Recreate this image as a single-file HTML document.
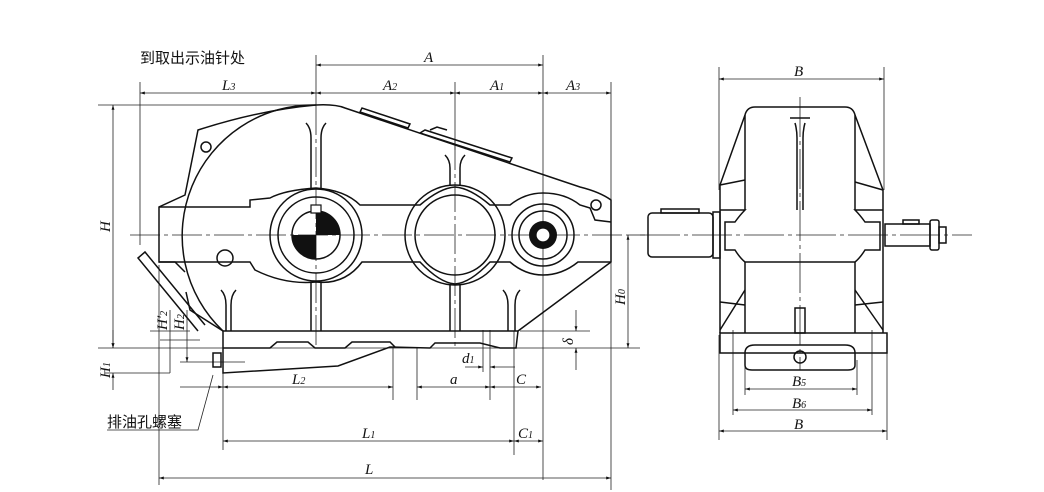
<!DOCTYPE html>
<html><head><meta charset="utf-8"><style>
html,body{margin:0;padding:0;background:#fff;width:1044px;height:492px;overflow:hidden}
svg{display:block}
text{font-family:"Liberation Serif","Noto Serif CJK SC",serif;font-style:italic;font-size:15px;fill:#111}
.cn{font-family:"Liberation Sans","Noto Sans CJK SC",sans-serif;font-style:normal;font-size:15px}
</style></head><body>
<svg width="1044" height="492" viewBox="0 0 1044 492" xmlns="http://www.w3.org/2000/svg">
<defs>
<marker id="ar" viewBox="0 0 10 10" refX="10" refY="5" markerWidth="8" markerHeight="6" orient="auto-start-reverse"><path d="M0,2 L10,5 L0,8z" fill="#111"/></marker>
</defs>
<g stroke="#222" stroke-width="0.8" fill="none">
<!-- extension lines -->
<line x1="140" y1="82" x2="140" y2="245"/>
<line x1="316" y1="55" x2="316" y2="105"/>
<line x1="455" y1="82" x2="455" y2="150"/>
<line x1="543" y1="55" x2="543" y2="480"/>
<line x1="611" y1="82" x2="611" y2="490"/>
<line x1="98" y1="105" x2="316" y2="105"/>
<line x1="98" y1="348" x2="640" y2="348"/>
<line x1="520" y1="331" x2="590" y2="331"/>
<line x1="159" y1="265" x2="159" y2="485"/>
<line x1="223" y1="348" x2="223" y2="450"/>
<line x1="514" y1="331" x2="514" y2="455"/>
<line x1="393" y1="348" x2="393" y2="400"/>
<line x1="417" y1="348" x2="417" y2="400"/>
<line x1="490" y1="330" x2="490" y2="400"/>
<line x1="483" y1="330" x2="483" y2="372"/>
<line x1="150" y1="331" x2="190" y2="331"/>
<line x1="160" y1="340" x2="200" y2="340"/>
<line x1="180" y1="362" x2="245" y2="362"/>
<line x1="630" y1="235" x2="645" y2="235"/>
<!-- dims -->
<line x1="316" y1="65" x2="543" y2="65" marker-start="url(#ar)" marker-end="url(#ar)"/>
<line x1="140" y1="93" x2="316" y2="93" marker-start="url(#ar)" marker-end="url(#ar)"/>
<line x1="316" y1="93" x2="455" y2="93" marker-start="url(#ar)" marker-end="url(#ar)"/>
<line x1="455" y1="93" x2="543" y2="93" marker-start="url(#ar)" marker-end="url(#ar)"/>
<line x1="543" y1="93" x2="611" y2="93" marker-start="url(#ar)" marker-end="url(#ar)"/>
<line x1="113" y1="105" x2="113" y2="348" marker-start="url(#ar)" marker-end="url(#ar)"/>
<line x1="113" y1="330" x2="113" y2="348" marker-end="url(#ar)"/>
<line x1="113" y1="390" x2="113" y2="373" marker-end="url(#ar)"/>
<line x1="105" y1="373" x2="170" y2="373"/>
<line x1="170" y1="310" x2="170" y2="373"/>
<line x1="187" y1="310" x2="187" y2="362" marker-end="url(#ar)"/>
<line x1="628" y1="235" x2="628" y2="348" marker-start="url(#ar)" marker-end="url(#ar)"/>
<line x1="576" y1="310" x2="576" y2="331" marker-end="url(#ar)"/>
<line x1="576" y1="370" x2="576" y2="348" marker-end="url(#ar)"/>
<line x1="180" y1="387" x2="223" y2="387" marker-end="url(#ar)"/>
<line x1="223" y1="387" x2="393" y2="387" marker-start="url(#ar)" marker-end="url(#ar)"/>
<line x1="417" y1="387" x2="490" y2="387" marker-start="url(#ar)" marker-end="url(#ar)"/>
<line x1="490" y1="387" x2="541" y2="387" marker-start="url(#ar)" marker-end="url(#ar)"/>
<line x1="465" y1="367" x2="483" y2="367" marker-end="url(#ar)"/>
<line x1="515" y1="367" x2="490" y2="367" marker-end="url(#ar)"/>
<line x1="223" y1="441" x2="514" y2="441" marker-start="url(#ar)" marker-end="url(#ar)"/>
<line x1="514" y1="441" x2="543" y2="441" marker-start="url(#ar)" marker-end="url(#ar)"/>
<line x1="159" y1="478" x2="611" y2="478" marker-start="url(#ar)" marker-end="url(#ar)"/>
<polyline points="107,430 198,430 213,375"/>
<!-- center lines -->
<line x1="130" y1="235" x2="630" y2="235" stroke-dasharray="30,4,4,4"/>
<line x1="316" y1="105" x2="316" y2="348" stroke-dasharray="30,4,4,4"/>
<line x1="455" y1="140" x2="455" y2="348" stroke-dasharray="30,4,4,4"/>
<!-- right view dims -->
<line x1="719" y1="67" x2="719" y2="190"/>
<line x1="884" y1="67" x2="884" y2="190"/>
<line x1="719" y1="79" x2="884" y2="79" marker-start="url(#ar)" marker-end="url(#ar)"/>
<line x1="719" y1="335" x2="719" y2="440"/>
<line x1="887" y1="335" x2="887" y2="440"/>
<line x1="745" y1="360" x2="745" y2="395"/>
<line x1="857" y1="360" x2="857" y2="395"/>
<line x1="733" y1="330" x2="733" y2="415"/>
<line x1="872" y1="330" x2="872" y2="415"/>
<line x1="745" y1="389" x2="857" y2="389" marker-start="url(#ar)" marker-end="url(#ar)"/>
<line x1="733" y1="410" x2="872" y2="410" marker-start="url(#ar)" marker-end="url(#ar)"/>
<line x1="719" y1="431" x2="887" y2="431" marker-start="url(#ar)" marker-end="url(#ar)"/>
<line x1="640" y1="235" x2="972" y2="235" stroke-dasharray="40,4,4,4"/>
<line x1="800" y1="97" x2="800" y2="370" stroke-dasharray="40,4,4,4"/>
</g>
<g stroke="#111" stroke-width="1.5" fill="none">
<!-- left housing -->
<path d="M316,105 Q335,104 345,108 L580,187 Q600,192 611,200 L611,262 L518,331"/>
<path d="M316,105 A131,131 0 0 0 223,331"/>
<path d="M316,105 Q260,110 198,130 L185,195 L159,207 L159,262 L175,262 L185,272"/>
<circle cx="206" cy="147" r="5"/>
<circle cx="596" cy="205" r="5"/>
<path d="M159,207 L250,207 L250,200 L270,198 Q285,190 316,188 Q345,190 360,205 L420,205 Q440,188 455,187 Q470,188 490,205 L510,205 Q525,193 543,193 Q565,193 580,205 L590,208 L595,220 L611,222"/>
<path d="M159,262 L250,262 L255,270 Q285,285 316,282 Q345,285 362,262 L420,262 Q440,283 455,284 Q470,283 490,262 L510,262 Q525,275 543,275 Q562,275 578,262 L611,262"/>
<circle cx="225" cy="258" r="8"/>
<!-- shafts -->
<circle cx="316" cy="235" r="46"/><circle cx="316" cy="235" r="38"/><circle cx="316" cy="235" r="24"/>
<circle cx="455" cy="235" r="50"/><circle cx="455" cy="235" r="40"/>
<circle cx="543" cy="235" r="31"/><circle cx="543" cy="235" r="24"/>
<!-- cover plates -->
<path d="M360,112 L408,128 L410,124 L362,108z"/>
<path d="M420,133 L510,162 L512,158 L425,130z"/>
<path d="M430,130 L437,127 L447,130"/>
<!-- ribs -->
<path d="M306,123 Q311,128 311,138 L311,190 M326,123 Q321,128 321,138 L321,190"/>
<path d="M445,155 Q450,160 450,168 L450,186 M465,155 Q460,160 460,168 L460,186"/>
<path d="M311,282 L311,331 M321,282 L321,331 M450,285 L450,331 M460,285 L460,331"/>
<path d="M221,290 Q226,295 226,305 L226,331 M236,290 Q231,295 231,305 L231,331"/>
<path d="M503,290 Q508,295 508,305 L508,331 M520,290 Q515,295 515,305 L515,331"/>
<!-- base -->
<path d="M223,331 L518,331 L516,348 L500,348 L480,343 L435,343 L430,348 L390,347 L338,366 L223,373 Z"/>
<path d="M223,348 L270,348 L277,342 L308,342 L315,348 L345,348 L352,342 L390,342 L395,347"/>
<!-- dipstick -->
<path d="M198,331 L138,258 L145,252 L205,325"/>
<path d="M223,331 L190,310 L186,292"/>
<rect x="213" y="353" width="8" height="14"/>
</g>
<!-- black quarters -->
<g fill="#111">
<path d="M316,211 A24,24 0 0 1 340,235 L316,235Z"/>
<path d="M316,259 A24,24 0 0 1 292,235 L316,235Z"/>
<circle cx="543" cy="235" r="14"/>
</g>
<rect x="311" y="205" width="10" height="8" fill="#fff" stroke="#111" stroke-width="1.2"/>
<circle cx="543" cy="235" r="7" fill="#fff" stroke="#111" stroke-width="1.2"/>
<!-- right view -->
<g stroke="#111" stroke-width="1.5" fill="none">
<path d="M745,115 Q747,107 755,107 L845,107 Q853,107 855,115 L855,210 M745,115 L745,210"/>
<path d="M745,115 L720,185 L720,333 M855,115 L883,190 L883,333"/>
<path d="M720,185 L745,180 M883,190 L855,182"/>
<path d="M720,210 L745,210 Q740,215 735,222 L725,222 L725,250 L735,250 Q740,258 745,262 L855,262 Q860,258 865,250 L880,250 L880,222 L865,222 Q860,215 855,210 L883,210"/>
<path d="M745,262 L745,333 M855,262 L855,333"/>
<path d="M720,302 L745,305 M883,302 L855,305 M720,330 L745,290 M883,330 L855,290"/>
<path d="M795,123 Q797,130 797,138 L797,210 M805,123 Q803,130 803,138 L803,210 M790,118 L810,118"/>
<rect x="648" y="213" width="65" height="44" rx="4"/>
<rect x="713" y="212" width="7" height="46"/>
<rect x="661" y="209" width="38" height="4"/>
<rect x="885" y="224" width="45" height="22"/>
<rect x="903" y="220" width="16" height="4"/>
<rect x="930" y="220" width="9" height="30" rx="2"/>
<rect x="939" y="227" width="7" height="16"/>
<rect x="795" y="308" width="10" height="25"/>
<rect x="720" y="333" width="167" height="20"/>
<path d="M745,353 Q745,345 755,345 L845,345 Q855,345 855,353 L855,365 Q855,370 848,370 L752,370 Q745,370 745,365 Z"/>
<circle cx="800" cy="357" r="6"/>
</g>
<!-- labels -->
<text class="cn" x="140" y="63">到取出示油针处</text>
<text class="cn" x="107" y="427">排油孔螺塞</text>
<text x="424" y="62">A</text>
<text x="222" y="90">L<tspan font-size="10">3</tspan></text>
<text x="383" y="90">A<tspan font-size="10">2</tspan></text>
<text x="490" y="90">A<tspan font-size="10">1</tspan></text>
<text x="566" y="90">A<tspan font-size="10">3</tspan></text>
<text x="110" y="232" transform="rotate(-90 110 232)">H</text>
<text x="110" y="378" transform="rotate(-90 110 378)">H<tspan font-size="10">1</tspan></text>
<text x="167" y="330" transform="rotate(-90 167 330)">H′<tspan font-size="10">2</tspan></text>
<text x="184" y="330" transform="rotate(-90 184 330)">H<tspan font-size="10">2</tspan></text>
<text x="625" y="305" transform="rotate(-90 625 305)">H<tspan font-size="10">0</tspan></text>
<text x="573" y="345" transform="rotate(-90 573 345)">δ</text>
<text x="292" y="384">L<tspan font-size="10">2</tspan></text>
<text x="450" y="384">a</text>
<text x="516" y="384">C</text>
<text x="462" y="363">d<tspan font-size="10">1</tspan></text>
<text x="362" y="438">L<tspan font-size="10">1</tspan></text>
<text x="518" y="438">C<tspan font-size="10">1</tspan></text>
<text x="365" y="474">L</text>
<text x="794" y="76">B</text>
<text x="792" y="386">B<tspan font-size="10">5</tspan></text>
<text x="792" y="408">B<tspan font-size="10">6</tspan></text>
<text x="794" y="429">B</text>
</svg>
</body></html>
